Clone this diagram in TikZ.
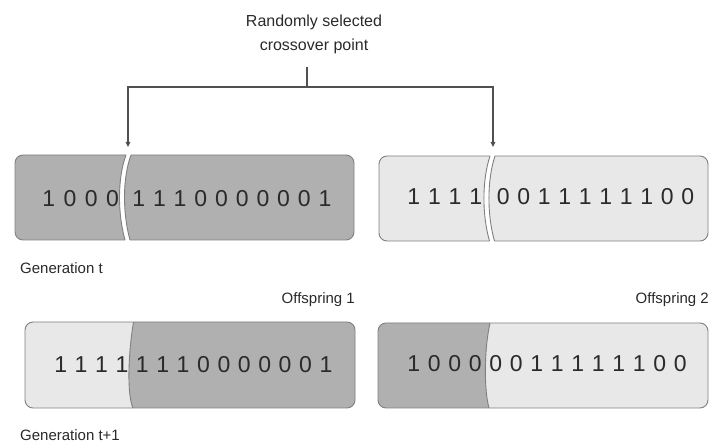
\documentclass[tikz,border=0pt]{standalone}
\usepackage{fontspec}
\setmainfont{Liberation Sans}
\usetikzlibrary{arrows.meta}
\definecolor{darkfill}{HTML}{B0B0B0}
\definecolor{lightfill}{HTML}{E8E8E8}
\definecolor{edge}{HTML}{808080}
\definecolor{ink}{HTML}{2A2A2A}
\definecolor{wire}{HTML}{505050}
\tikzset{
  bit/.style={inner sep=0pt, text=ink, font=\fontsize{23}{23}\selectfont},
  lbl/.style={inner sep=0pt, text=ink, font=\fontsize{15}{18}\selectfont},
  boxline/.style={draw=edge, line width=0.9pt},
  wireline/.style={draw=wire, line width=1.1pt},
  arrline/.style={wireline, -{Triangle[length=5pt,width=4.5pt]}},
}
\newcommand\bitrow[5]{%
  \foreach \d [count=\i from 0] in {#5}{
    \node[bit] (#1-\i) at ({#2+\i*#3},#4) {\d};
  }%
}
\begin{document}
\begin{tikzpicture}[x=1pt,y=-1pt]
\useasboundingbox (0,0) rectangle (710,443);
\fill[white] (0,0) rectangle (710,443);

% title and connectors
\node[lbl, align=center, font=\fontsize{16}{24}\selectfont] (title) at (314,34) {Randomly selected\\crossover point};
\coordinate (top) at (307,67);
\coordinate (j) at (307,87);
\coordinate (t1) at (128,147);
\coordinate (t2) at (493,147);
\draw[wireline] (top) -- (j);
\draw[arrline] (j) -| (t1);
\draw[arrline] (j) -| (t2);

% ---------- Box 1 (generation t, parent 1) ----------
\begin{scope}
  \clip (0,150) -- (126,150) -- (126,155) .. controls (117.5,178) and (117.5,213) .. (125,240) -- (125,246) -- (0,246) -- cycle;
  \path[boxline, fill=darkfill, rounded corners=8pt] (15,155) rectangle (354,240);
\end{scope}
\begin{scope}
  \clip (131,150) -- (131,155) .. controls (122.5,178) and (122.5,213) .. (130,240) -- (130,246) -- (360,246) -- (360,150) -- cycle;
  \path[boxline, fill=darkfill, rounded corners=8pt] (15,155) rectangle (354,240);
\end{scope}
\draw[boxline] (126,155) .. controls (117.5,178) and (117.5,213) .. (125,240);
\draw[boxline] (131,155) .. controls (122.5,178) and (122.5,213) .. (130,240);
\bitrow{pa}{48.7}{21.3}{198.5}{1,0,0,0}
\bitrow{pb}{138.7}{20.7}{198.5}{1,1,1,0,0,0,0,0,0,1}

% ---------- Box 2 (generation t, parent 2) ----------
\begin{scope}
  \clip (370,150) -- (490,150) -- (490,156) .. controls (482,180) and (482,215) .. (489.5,241) -- (489.5,247) -- (370,247) -- cycle;
  \path[boxline, fill=lightfill, rounded corners=8pt] (379,156) rectangle (708,241);
\end{scope}
\begin{scope}
  \clip (495,150) -- (495,156) .. controls (487,180) and (487,215) .. (494.5,241) -- (494.5,247) -- (712,247) -- (712,150) -- cycle;
  \path[boxline, fill=lightfill, rounded corners=8pt] (379,156) rectangle (708,241);
\end{scope}
\draw[boxline] (490,156) .. controls (482,180) and (482,215) .. (489.5,241);
\draw[boxline] (495,156) .. controls (487,180) and (487,215) .. (494.5,241);
\bitrow{qa}{413.7}{20.7}{196.5}{1,1,1,1}
\bitrow{qb}{503.2}{20.5}{196.5}{0,0,1,1,1,1,1,1,0,0}

\node[lbl, anchor=west] (gent) at (20,268) {Generation t};

% ---------- Box 3 (offspring 1) ----------
\node[lbl, anchor=east] (off1) at (355,300) {Offspring 1};
\path[fill=lightfill, rounded corners=8pt] (25,322) rectangle (355,408);
\begin{scope}
  \clip (133.5,318) -- (133.5,322) .. controls (128,355) and (127,395) .. (133,408) -- (133,412) -- (360,412) -- (360,318) -- cycle;
  \path[fill=darkfill, rounded corners=8pt] (25,322) rectangle (355,408);
\end{scope}
\draw[boxline] (133.5,322) .. controls (128,355) and (127,395) .. (133,408);
\path[boxline, rounded corners=8pt] (25,322) rectangle (355,408);
\bitrow{ra}{60.7}{20.4}{365}{1,1,1,1,1,1,1,0,0,0,0,0,0,1}

% ---------- Box 4 (offspring 2) ----------
\node[lbl, anchor=east] (off2) at (709,300) {Offspring 2};
\path[fill=lightfill, rounded corners=8pt] (378,323) rectangle (708,408);
\begin{scope}
  \clip (370,318) -- (490,318) -- (490,323) .. controls (484,350) and (484,390) .. (489,408) -- (489,412) -- (370,412) -- cycle;
  \path[fill=darkfill, rounded corners=8pt] (378,323) rectangle (708,408);
\end{scope}
\draw[boxline] (490,323) .. controls (484,350) and (484,390) .. (489,408);
\path[boxline, rounded corners=8pt] (378,323) rectangle (708,408);
\bitrow{sa}{413.7}{20.5}{363.5}{1,0,0,0,0,0,1,1,1,1,1,1,0,0}

\node[lbl, anchor=west] (gent1) at (20,435) {Generation t+1};
\end{tikzpicture}
\end{document}
